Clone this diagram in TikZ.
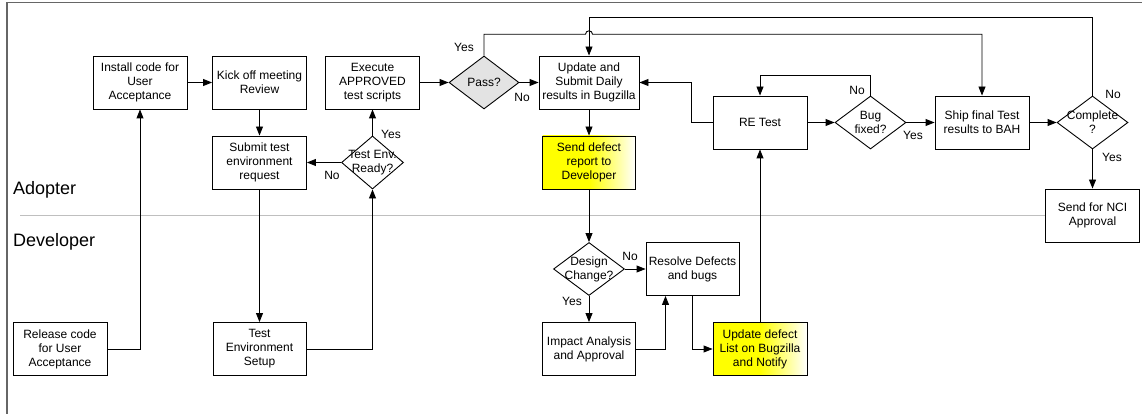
\documentclass[tikz,border=0pt]{standalone}
\usepackage{fontspec}
\setmainfont{Liberation Sans}
\usetikzlibrary{shapes.geometric,arrows.meta}
\tikzset{
  every node/.style={font=\fontsize{12}{14}\selectfont},
  box/.style={draw=black, fill=white, line width=0.9pt, minimum width=94pt, minimum height=53pt, align=center, inner sep=1pt},
  ybox/.style={box, left color=yellow, right color=white, middle color=yellow},
  dia/.style={diamond, draw=black, fill=white, line width=0.9pt, inner sep=0pt, minimum width=71pt, minimum height=53pt},
  lab/.style={font=\fontsize{12}{14}\selectfont, inner sep=0pt},
  lane/.style={font=\fontsize{18}{20}\selectfont, anchor=west, inner sep=0pt},
  arr/.style={draw=black, line width=0.9pt, -{Triangle[length=9pt,width=7pt]}},
  ln/.style={draw=black, line width=0.9pt},
}
\begin{document}
\begin{tikzpicture}[x=1pt,y=-1pt]
\useasboundingbox (0,0) rectangle (1142,414);
% frame
\draw[color=black!60, line width=1.5pt] (7,414) -- (7,2.5) -- (1142,2.5);
% lane divider
\draw[color=black!25, line width=1.5pt] (20,215.7) -- (1100,215.7);
\node[lane] (adopter) at (13,190) {Adopter};
\node[lane] (developer) at (13,242) {Developer};

% nodes
\node[box] (install) at (140,82.5) {Install code for\\User\\Acceptance};
\node[box] (kick) at (259.5,82.5) {Kick off meeting\\Review};
\node[box] (exec) at (372.5,82.5) {Execute\\APPROVED\\test scripts};
\node[box] (submit) at (259.5,162.5) {Submit test\\environment\\request};
\node[dia, minimum width=62pt, label={[align=center,lab]center:Test Env.\\Ready?}] (te) at (372.5,162.5) {};
\node[dia, minimum width=70pt, fill=black!11, label={[lab]center:Pass?}] (pass) at (484,82.5) {};
\node[box, minimum width=100pt] (update) at (589,82.5) {Update and\\Submit Daily\\results in Bugzilla};
\node[ybox, minimum width=93pt] (defect) at (589,162.5) {Send defect\\report to\\Developer};
\node[box] (retest) at (760,122.5) {RE Test};
\node[dia, label={[align=center,lab]center:Bug\\fixed?}] (bugfix) at (870.5,122.5) {};
\node[box] (ship) at (982,122.5) {Ship final Test\\results to BAH};
\node[dia, label={[align=center,lab]center:Complete\\?}] (complete) at (1092.5,122.5) {};
\node[box] (nci) at (1092.5,215.5) {Send for NCI\\Approval};
\node[box] (release) at (60,349) {Release code\\for User\\Acceptance};
\node[box, minimum width=93pt] (setup) at (259.5,349) {Test\\Environment\\Setup};
\node[dia, label={[align=center,lab]center:Design\\Change?}] (design) at (589,269) {};
\node[box, minimum width=93pt] (resolve) at (692.5,269) {Resolve Defects\\and bugs};
\node[box, minimum width=93pt] (impact) at (589,349) {Impact Analysis\\and Approval};
\node[ybox] (updef) at (760,349) {Update defect\\List on Bugzilla\\and Notify};

% labels
\node[lab] (l1) at (464,47.7) {Yes};
\node[lab] (l2) at (522,97) {No};
\node[lab] (l3) at (391,134) {Yes};
\node[lab] (l4) at (332,175) {No};
\node[lab] (l5) at (857,90) {No};
\node[lab] (l6) at (913,135) {Yes};
\node[lab] (l7) at (1113,94) {No};
\node[lab] (l8) at (1112,157) {Yes};
\node[lab] (l9) at (630,256.7) {No};
\node[lab] (l10) at (572,301) {Yes};

% connectors
\coordinate (hopL) at (585.5,34.3);
\coordinate (topY) at (0,17);
\draw[arr] (release.east) -| (install.south);
\draw[arr] (install.east) -- (kick.west);
\draw[arr] (kick.south) -- (submit.north);
\draw[arr] (submit.south) -- (setup.north);
\draw[arr] (setup.east) -| (te.south);
\draw[arr] (te.west) -- (submit.east);
\draw[arr] (te.north) -- (exec.south);
\draw[arr] (exec.east) -- (pass.west);
\draw[arr] (pass.east) -- (update.west);
\draw[arr] (pass.north) |- (hopL) arc[start angle=180,end angle=0,radius=3.5pt] -| (ship.north);
\draw[arr] (complete.north) |- (topY -| update.north) -- (update.north);
\draw[arr] (update.south) -- (defect.north);
\draw[arr] (defect.south) -- (design.north);
\draw[arr] (design.east) -- (resolve.west);
\draw[arr] (design.south) -- (impact.north);
\draw[arr] (impact.east) -| ([xshift=-27pt]resolve.south);
\draw[arr] (resolve.south) |- (updef.west);
\draw[arr] (updef.north) -- (retest.south);
\draw[arr] (retest.west) -- ++(-21,0) |- (update.east);
\draw[arr] (retest.east) -- (bugfix.west);
\draw[arr] (bugfix.north) -- ++(0,-20) -| (retest.north);
\draw[arr] (bugfix.east) -- (ship.west);
\draw[arr] (ship.east) -- (complete.west);
\draw[arr] (complete.south) -- (nci.north);
\end{tikzpicture}
\end{document}
